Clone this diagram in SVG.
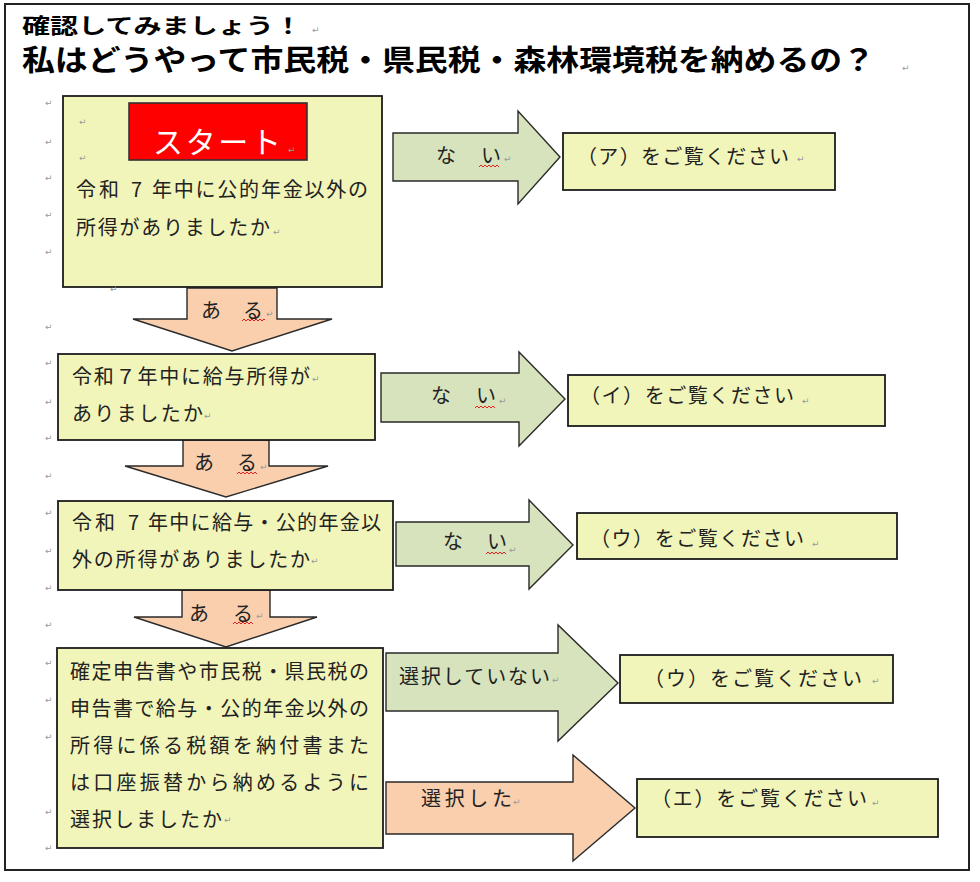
<svg xmlns="http://www.w3.org/2000/svg" width="980" height="882" viewBox="0 0 980 882">
<defs>
<style>
.frame{fill:#fff;stroke:#222;stroke-width:2}
.box{fill:#F1F5B9;stroke:#1c1c1c;stroke-width:1.8}
.start{fill:#FF0000;stroke:#333;stroke-width:1.6}
.ga{fill:#D6E3BC;stroke:#2a2a2a;stroke-width:1.4;stroke-linejoin:miter}
.pa{fill:#F9CFAE;stroke:#2a2a2a;stroke-width:1.4;stroke-linejoin:miter}
.t{font-family:"Noto Sans CJK JP","Noto Sans CJK SC",sans-serif;font-size:20px;fill:#222}
.title{font-family:"Noto Sans CJK JP","Noto Sans CJK SC",sans-serif;font-weight:700;fill:#000}
.st{font-family:"Noto Sans CJK JP","Noto Sans CJK SC",sans-serif;font-size:30px;fill:#fff}
.pm{font-family:"DejaVu Sans",sans-serif;font-size:9px;fill:#9a9a9a}
.sq{fill:none;stroke:#e02020;stroke-width:1}
</style>
</defs>
<rect class="frame" x="5" y="4" width="964" height="866"/>

<g id="title">
<text class="title" x="22" y="33" font-size="21" textLength="280" lengthAdjust="spacingAndGlyphs">確認してみましょう！</text>
<text class="title" x="22" y="71" font-size="29" textLength="853" lengthAdjust="spacingAndGlyphs">私はどうやって市民税・県民税・森林環境税を納めるの？</text>
<text class="pm" x="312" y="33">↵</text>
<text class="pm" x="902" y="71">↵</text>
</g>

<g id="connectors">
<g id="arrow-d1">
<polygon class="pa" points="187,288 277,288 277,319 332,319 232,351 133,319 187,319"/>
<text class="t" x="201" y="318" textLength="62">あ　る</text>
<path class="sq" d="M242,321 l2,-2 l2,2 l2,-2 l2,2 l2,-2 l2,2 l2,-2 l2,2 l2,-2 l2,2 l2,-2 l1,1"/>
<text class="pm" x="266" y="317">↵</text>
</g>
<g id="arrow-d2">
<polygon class="pa" points="183,440 269,440 269,466 328,466 226,497 125,466 183,466"/>
<text class="t" x="194" y="470" textLength="63">あ　る</text>
<path class="sq" d="M237,474 l2,-2 l2,2 l2,-2 l2,2 l2,-2 l2,2 l2,-2 l2,2 l2,-2 l2,2"/>
<text class="pm" x="260" y="470">↵</text>
</g>
<g id="arrow-d3">
<polygon class="pa" points="182,590 270,590 270,617 317,617 226,647 134,617 182,617"/>
<text class="t" x="189" y="621" textLength="64">あ　る</text>
<path class="sq" d="M233,624 l2,-2 l2,2 l2,-2 l2,2 l2,-2 l2,2 l2,-2 l2,2 l2,-2 l2,2"/>
<text class="pm" x="256" y="619">↵</text>
</g>
<g id="arrow-r1">
<polygon class="ga" points="393,133 518,133 518,111 560,157 518,204 518,181 393,181"/>
<text class="t" x="436" y="163" textLength="65">な　い</text>
<path class="sq" d="M479,167 l2,-2 l2,2 l2,-2 l2,2 l2,-2 l2,2 l2,-2 l2,2 l2,-2 l2,2"/>
<text class="pm" x="504" y="162">↵</text>
</g>
<g id="arrow-r2">
<polygon class="ga" points="381,373 519,373 519,352 565,399 519,446 519,422 381,422"/>
<text class="t" x="431" y="403" textLength="65">な　い</text>
<path class="sq" d="M475,408 l2,-2 l2,2 l2,-2 l2,2 l2,-2 l2,2 l2,-2 l2,2 l2,-2 l2,2"/>
<text class="pm" x="499" y="404">↵</text>
</g>
<g id="arrow-r3">
<polygon class="ga" points="396,522 529,522 529,500 573,545 529,589 529,566 396,566"/>
<text class="t" x="443" y="549" textLength="64">な　い</text>
<path class="sq" d="M486,554 l2,-2 l2,2 l2,-2 l2,2 l2,-2 l2,2 l2,-2 l2,2 l2,-2 l2,2"/>
<text class="pm" x="509" y="553">↵</text>
</g>
<g id="arrow-r4">
<polygon class="ga" points="386,653 558,653 558,625 618,683 558,741 558,711 386,711"/>
<text class="t" x="399" y="684" textLength="151">選択していない</text>
<text class="pm" x="552" y="683">↵</text>
</g>
<g id="arrow-r5">
<polygon class="pa" points="386,782 573,782 573,755 635,808 573,861 573,834 386,834"/>
<text class="t" x="421" y="806" textLength="91">選択した</text>
<text class="pm" x="513" y="805">↵</text>
</g>
</g>

<g id="q1">
<rect class="box" x="63" y="96" width="319" height="191"/>
<text class="t" x="76" y="197"><tspan textLength="43">令和</tspan><tspan x="131">7</tspan><tspan x="152" textLength="216">年中に公的年金以外の</tspan></text>
<text class="t" x="76" y="235" textLength="194">所得がありましたか</text>
<text class="pm" x="273" y="235">↵</text>
</g>
<g id="start">
<rect class="start" x="129" y="103" width="178" height="57"/>
<text class="st" x="153" y="153" textLength="128">スタート</text>
<text class="pm" x="288" y="153">↵</text>
</g>

<g id="q2">
<rect class="box" x="58" y="354" width="317" height="86"/>
<text class="t" x="72" y="384" textLength="238">令和７年中に給与所得が</text>
<text class="t" x="72" y="421" textLength="131">ありましたか</text>
<text class="pm" x="312" y="382">↵</text>
<text class="pm" x="204" y="419">↵</text>
</g>

<g id="q3">
<rect class="box" x="58" y="501" width="335" height="89"/>
<text class="t" x="72" y="530"><tspan textLength="43">令和</tspan><tspan x="128">7</tspan><tspan x="148" textLength="233">年中に給与・公的年金以</tspan></text>
<text class="t" x="72" y="567" textLength="238">外の所得がありましたか</text>
<text class="pm" x="311" y="564">↵</text>
</g>

<g id="q4">
<rect class="box" x="57" y="648" width="326" height="200"/>
<text class="t" x="70" y="679" textLength="299">確定申告書や市民税・県民税の</text>
<text class="t" x="70" y="716" textLength="299">申告書で給与・公的年金以外の</text>
<text class="t" x="70" y="753" textLength="299">所得に係る税額を納付書また</text>
<text class="t" x="70" y="790" textLength="299">は口座振替から納めるように</text>
<text class="t" x="70" y="827" textLength="152">選択しましたか</text>
<text class="pm" x="224" y="823">↵</text>
</g>

<g id="r1">
<rect class="box" x="563" y="133" width="272" height="57"/>
<text class="t" x="577" y="164" textLength="212">（ア）をご覧ください</text>
<text class="pm" x="797" y="162">↵</text>
</g>
<g id="r2">
<rect class="box" x="568" y="375" width="317" height="51"/>
<text class="t" x="580" y="403" textLength="214">（イ）をご覧ください</text>
<text class="pm" x="802" y="404">↵</text>
</g>
<g id="r3">
<rect class="box" x="577" y="513" width="320" height="46"/>
<text class="t" x="590" y="546" textLength="214">（ウ）をご覧ください</text>
<text class="pm" x="812" y="547">↵</text>
</g>
<g id="r4">
<rect class="box" x="620" y="655" width="273" height="48"/>
<text class="t" x="644" y="686" textLength="218">（ウ）をご覧ください</text>
<text class="pm" x="872" y="684">↵</text>
</g>
<g id="r5">
<rect class="box" x="637" y="779" width="301" height="58"/>
<text class="t" x="651" y="806" textLength="216">（エ）をご覧ください</text>
<text class="pm" x="872" y="806">↵</text>
</g>

<g id="margin-marks">
<text class="pm" x="45" y="106">↵</text>
<text class="pm" x="45" y="145">↵</text>
<text class="pm" x="45" y="181">↵</text>
<text class="pm" x="45" y="218">↵</text>
<text class="pm" x="45" y="255">↵</text>
<text class="pm" x="110" y="292">↵</text>
<text class="pm" x="45" y="330">↵</text>
<text class="pm" x="79" y="125">↵</text>
<text class="pm" x="79" y="161">↵</text>
<text class="pm" x="45" y="366">↵</text>
<text class="pm" x="45" y="405">↵</text>
<text class="pm" x="45" y="441">↵</text>
<text class="pm" x="45" y="479">↵</text>
<text class="pm" x="45" y="516">↵</text>
<text class="pm" x="45" y="554">↵</text>
<text class="pm" x="45" y="591">↵</text>
<text class="pm" x="45" y="628">↵</text>
<text class="pm" x="45" y="666">↵</text>
<text class="pm" x="45" y="703">↵</text>
<text class="pm" x="45" y="740">↵</text>
<text class="pm" x="45" y="815">↵</text>
<text class="pm" x="45" y="851">↵</text>
</g>
</svg>
